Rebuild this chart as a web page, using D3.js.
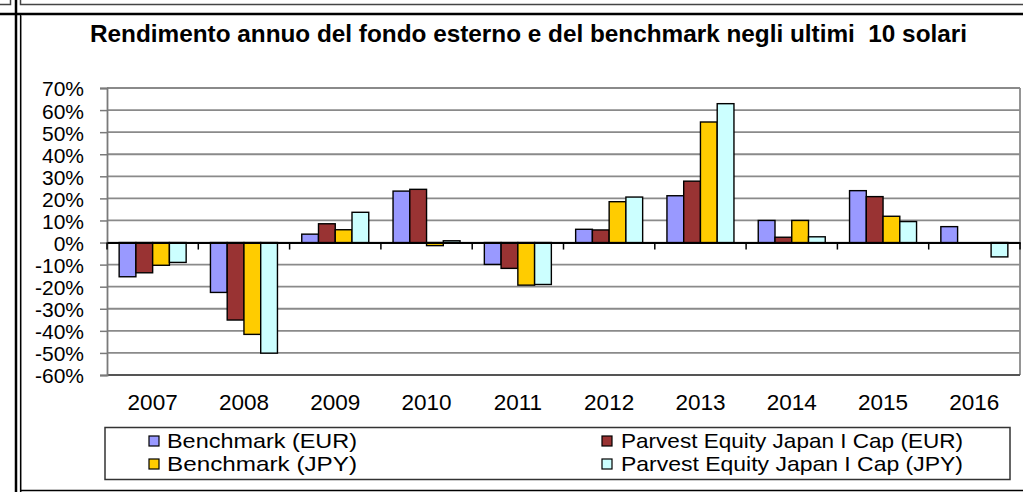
<!DOCTYPE html>
<html>
<head>
<meta charset="utf-8">
<script src="https://cdn.jsdelivr.net/npm/d3@7"></script>
<style>
  html, body { margin: 0; padding: 0; background: #fff; }
  svg { display: block; font-family: "Liberation Sans", Arial, sans-serif; }
</style>
</head>
<body>
<svg id="chart" width="1023" height="492"></svg>
<script>
// Annual returns (%) by calendar year
const years = ["2007", "2008", "2009", "2010", "2011", "2012", "2013", "2014", "2015", "2016"];
const benchmarkEur = [-15.5, -22.6, 3.8, 23.3, -9.9, 6.0, 21.2, 10.0, 23.5, 7.2];
const fundEur      = [-13.7, -35.1, 8.5, 24.1, -11.7, 5.7, 27.8, 2.4, 20.8, 0];
const benchmarkJpy = [-10.3, -41.6, 5.8, -1.4, -19.3, 18.5, 54.6, 10.0, 11.9, 0];
const fundJpy      = [-9.0, -50.1, 13.7, 0.8, -19.0, 20.6, 62.9, 2.6, 9.5, -6.5];
const seriesNames = ["Benchmark (EUR)", "Parvest Equity Japan I Cap (EUR)", "Benchmark (JPY)", "Parvest Equity Japan I Cap (JPY)"];
const seriesColors = ["#9999ff", "#993333", "#ffcc00", "#ccffff"];
const yTicks = [-60, -50, -40, -30, -20, -10, 0, 10, 20, 30, 40, 50, 60, 70];

const seriesValues = [benchmarkEur, fundEur, benchmarkJpy, fundJpy];
const title = "Rendimento annuo del fondo esterno e del benchmark negli ultimi  10 solari";

const svg = d3.select("#chart");
const W = 1023, H = 492;

// Page frame lines
const frame = svg.append("g").attr("fill", "none");
frame.append("path").attr("d", "M0,4.5H10.5V0").attr("stroke", "#444").attr("stroke-width", 1.5);
frame.append("path").attr("d", `M20.5,0V4.5H${W}`).attr("stroke", "#444").attr("stroke-width", 1.5);
frame.append("line").attr("x1", 0).attr("x2", W).attr("y1", 14).attr("y2", 14).attr("stroke", "#000").attr("stroke-width", 2.5);
frame.append("line").attr("x1", 16).attr("x2", 16).attr("y1", 0).attr("y2", H).attr("stroke", "#000").attr("stroke-width", 2.5);
frame.append("line").attr("x1", 21.5).attr("x2", 21.5).attr("y1", 15).attr("y2", H).attr("stroke", "#999").attr("stroke-width", 1);
frame.append("line").attr("x1", 20.5).attr("x2", 20.5).attr("y1", 15).attr("y2", H).attr("stroke", "#000").attr("stroke-width", 1.2);
frame.append("line").attr("x1", 20).attr("x2", W).attr("y1", 490.5).attr("y2", 490.5).attr("stroke", "#000").attr("stroke-width", 1.5);

// Title
svg.append("text")
  .attr("x", 528.5).attr("y", 42)
  .attr("text-anchor", "middle")
  .attr("font-weight", "bold").attr("font-size", 24)
  .attr("textLength", 877).attr("lengthAdjust", "spacingAndGlyphs")
  .attr("fill", "#000")
  .style("white-space", "pre")
  .text(title);

// Plot area
const plot = { left: 107, right: 1020, top: 88, bottom: 375 };

const x0 = d3.scaleBand().domain(years).range([plot.left, plot.right]).padding(0);
const x1 = d3.scaleBand().domain(d3.range(4)).range([0, x0.bandwidth()]).paddingInner(0).paddingOuter(0.725);
const y = d3.scaleLinear().domain([-60, 70]).range([plot.bottom, plot.top]);

// Horizontal gridlines
svg.append("g").selectAll("line")
  .data(yTicks)
  .join("line")
  .attr("x1", plot.left).attr("x2", plot.right)
  .attr("y1", d => y(d)).attr("y2", d => y(d))
  .attr("stroke", "#8a8a8a").attr("stroke-width", 1.8);

// Plot border (right and bottom)
svg.append("line").attr("x1", plot.right).attr("x2", plot.right).attr("y1", plot.top).attr("y2", plot.bottom)
  .attr("stroke", "#8a8a8a").attr("stroke-width", 1.8);
svg.append("line").attr("x1", plot.left).attr("x2", plot.right).attr("y1", plot.bottom).attr("y2", plot.bottom)
  .attr("stroke", "#555").attr("stroke-width", 1.8);

// Y axis
const yAxis = d3.axisLeft(y).tickValues(yTicks).tickSize(7).tickPadding(16).tickFormat(d => d + "%");
const yg = svg.append("g").attr("transform", `translate(${plot.left},0)`).call(yAxis);
yg.select(".domain").attr("stroke", "#7a7a7a").attr("stroke-width", 1.8);
yg.selectAll(".tick line").attr("stroke", "#7a7a7a").attr("stroke-width", 1.5);
yg.selectAll(".tick text")
  .attr("font-size", 21).attr("font-family", "Liberation Sans, Arial, sans-serif")
  .attr("fill", "#000").attr("dy", "0.38em");

// Bars
const bars = svg.append("g");
years.forEach((yr, i) => {
  bars.selectAll(null)
    .data(seriesValues.map((vals, s) => ({ s, v: vals[i] })))
    .join("rect")
    .attr("x", d => x0(yr) + x1(d.s))
    .attr("width", x1.bandwidth())
    .attr("y", d => y(Math.max(0, d.v)))
    .attr("height", d => Math.abs(y(d.v) - y(0)))
    .attr("fill", d => seriesColors[d.s])
    .attr("stroke", "#000").attr("stroke-width", 1.4);
});

// Category axis through zero
const xAxis = d3.axisBottom(x0).tickSize(0).tickFormat("");
const xg = svg.append("g").attr("transform", `translate(0,${y(0)})`).call(xAxis);
xg.select(".domain").attr("stroke", "#000").attr("stroke-width", 2);
xg.selectAll(null)
  .data(d3.range(years.length + 1))
  .join("line")
  .attr("x1", k => plot.left + k * x0.step()).attr("x2", k => plot.left + k * x0.step())
  .attr("y1", 0).attr("y2", 7)
  .attr("stroke", "#000").attr("stroke-width", 1.5);

// Category labels below the plot
svg.append("g").selectAll("text")
  .data(years)
  .join("text")
  .attr("x", d => x0(d) + x0.bandwidth() / 2)
  .attr("y", 410)
  .attr("text-anchor", "middle")
  .attr("font-size", 22.5)
  .attr("fill", "#000")
  .text(d => d);

// Legend
const legend = svg.append("g");
legend.append("rect")
  .attr("x", 105).attr("y", 427.5).attr("width", 905).attr("height", 52)
  .attr("fill", "#fff").attr("stroke", "#333").attr("stroke-width", 1.5);

const legendItems = [
  { s: 0, sx: 149, tx: 167, by: 448, len: 190 },
  { s: 1, sx: 602, tx: 621, by: 448, len: 342 },
  { s: 2, sx: 149, tx: 167, by: 471, len: 190 },
  { s: 3, sx: 602, tx: 621, by: 471, len: 342 }
];
const li = legend.selectAll("g.item").data(legendItems).join("g").attr("class", "item");
li.append("rect")
  .attr("x", d => d.sx).attr("y", d => d.by - 12)
  .attr("width", 10).attr("height", 10)
  .attr("fill", d => seriesColors[d.s])
  .attr("stroke", "#000").attr("stroke-width", 1.2);
li.append("text")
  .attr("x", d => d.tx).attr("y", d => d.by)
  .attr("font-size", 21)
  .attr("textLength", d => d.len).attr("lengthAdjust", "spacingAndGlyphs")
  .attr("fill", "#000")
  .text(d => seriesNames[d.s]);
</script>
</body>
</html>
